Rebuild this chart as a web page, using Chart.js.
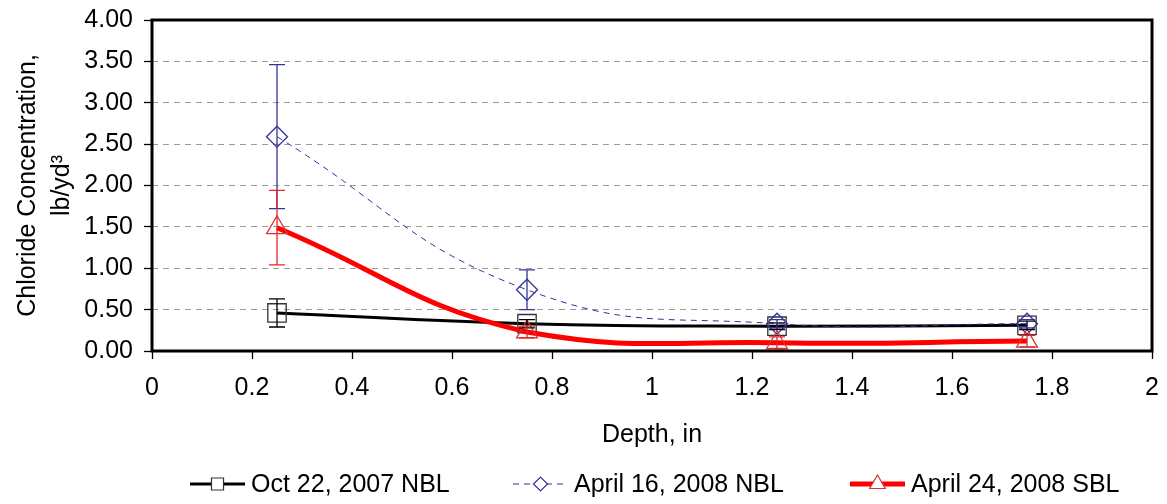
<!DOCTYPE html>
<html>
<head>
<meta charset="utf-8">
<script src="https://cdn.jsdelivr.net/npm/chart.js@4.4.1/dist/chart.umd.min.js"></script>
<style>
  html, body { margin: 0; padding: 0; background: #fff; }
  #wrap { width: 1167px; height: 504px; }
</style>
</head>
<body>
<div id="wrap"><canvas id="chloride"></canvas></div>
<script>
// depth readings (in) and chloride results (lb/yd3) per sampling date
const depths = [0.25, 0.75, 1.25, 1.75];
const seriesNames = ["Oct 22, 2007 NBL", "April 16, 2008 NBL", "April 24, 2008 SBL"];
const oct2007 = [0.46, 0.33, 0.30, 0.31];
const oct2007Err = [0.17, 0.05, 0.04, 0.05];
const apr16 = [2.59, 0.74, 0.33, 0.33];
const apr16Err = [0.87, 0.24, 0.05, 0.05];
const apr24 = [1.49, 0.23, 0.10, 0.12];
const apr24Err = [0.45, 0.07, 0.07, 0.07];

const FONT = "'Liberation Sans', Arial, sans-serif";

const toPoints = function(vals) {
  return depths.map((d, i) => ({ x: d, y: vals[i] }));
};

// vertical error bars with caps, drawn from each dataset's errors array
const errorBars = {
  id: 'errorBars',
  afterDatasetsDraw(chart) {
    const ctx = chart.ctx;
    const yScale = chart.scales.y;
    chart.data.datasets.forEach((ds, i) => {
      const meta = chart.getDatasetMeta(i);
      ctx.save();
      ctx.strokeStyle = ds.errorColor;
      ctx.lineWidth = 1.3;
      meta.data.forEach((pt, j) => {
        const v = ds.data[j].y, e = ds.errors[j];
        const top = yScale.getPixelForValue(v + e);
        const bot = yScale.getPixelForValue(v - e);
        ctx.beginPath();
        ctx.moveTo(pt.x, top); ctx.lineTo(pt.x, bot);
        ctx.moveTo(pt.x - 8, top); ctx.lineTo(pt.x + 8, top);
        ctx.moveTo(pt.x - 8, bot); ctx.lineTo(pt.x + 8, bot);
        ctx.stroke();
      });
      ctx.restore();
    });
  }
};

// box around the plot area
const frame = {
  id: 'frame',
  afterDraw(chart) {
    const a = chart.chartArea, ctx = chart.ctx;
    ctx.save();
    ctx.strokeStyle = '#000';
    ctx.lineWidth = 3;
    ctx.strokeRect(a.left, a.top, a.right - a.left, a.bottom - a.top);
    ctx.restore();
  }
};

// legend row: line sample + marker + label
const legendRow = {
  id: 'legendRow',
  afterDraw(chart) {
    const ctx = chart.ctx;
    const items = [
      { x: 190, ds: 0 },
      { x: 513, ds: 1 },
      { x: 850, ds: 2 }
    ];
    const y = 484;
    items.forEach(it => {
      const ds = chart.data.datasets[it.ds];
      ctx.save();
      ctx.strokeStyle = ds.borderColor;
      ctx.lineWidth = ds.borderWidth;
      ctx.setLineDash(ds.borderDash || []);
      ctx.beginPath();
      ctx.moveTo(it.x, y); ctx.lineTo(it.x + 55, y);
      ctx.stroke();
      ctx.setLineDash([]);
      ctx.fillStyle = '#fff';
      ctx.strokeStyle = ds.pointBorderColor;
      ctx.lineWidth = 1.2;
      Chart.helpers.drawPoint(ctx, {
        pointStyle: ds.pointStyle, radius: ds.legendRadius, borderWidth: 1.2
      }, it.x + 27.5, y);
      ctx.fillStyle = '#000';
      ctx.font = '25px ' + FONT;
      ctx.textBaseline = 'alphabetic';
      ctx.fillText(ds.label, it.x + 61, 492);
      ctx.restore();
    });
  }
};

new Chart(document.getElementById('chloride'), {
  type: 'line',
  data: {
    datasets: [
      {
        label: seriesNames[0],
        data: toPoints(oct2007),
        errors: oct2007Err,
        errorColor: '#000',
        borderColor: '#000',
        borderWidth: 3,
        pointStyle: 'rect',
        pointRadius: 13,
        legendRadius: 8.5,
        pointBorderColor: '#333',
        pointBorderWidth: 1.3,
        pointBackgroundColor: 'rgba(0,0,0,0)',
        tension: 0.45,
        order: 2
      },
      {
        label: seriesNames[1],
        data: toPoints(apr16),
        errors: apr16Err,
        errorColor: '#333399',
        borderColor: '#333399',
        borderWidth: 1,
        borderDash: [6, 5],
        pointStyle: 'rectRot',
        pointRadius: 10.5,
        legendRadius: 7,
        pointBorderColor: '#333399',
        pointBorderWidth: 1.3,
        pointBackgroundColor: 'rgba(0,0,0,0)',
        tension: 0.45,
        order: 1
      },
      {
        label: seriesNames[2],
        data: toPoints(apr24),
        errors: apr24Err,
        errorColor: '#e02828',
        borderColor: '#ff0000',
        borderWidth: 5,
        pointStyle: 'triangle',
        pointRadius: 12,
        legendRadius: 9,
        pointBorderColor: '#e03030',
        pointBorderWidth: 1.3,
        pointBackgroundColor: 'rgba(0,0,0,0)',
        tension: 0.45,
        order: 0
      }
    ]
  },
  options: {
    responsive: true,
    maintainAspectRatio: false,
    animation: false,
    layout: { padding: { top: 20, right: 15, bottom: 0, left: 0 } },
    plugins: {
      legend: { display: false },
      tooltip: { enabled: false }
    },
    scales: {
      x: {
        type: 'linear',
        min: 0,
        max: 2,
        afterFit(scale) {
          scale.height = 153;
          scale.paddingLeft = 0;
          scale.paddingRight = 0;
        },
        ticks: {
          stepSize: 0.2,
          color: '#000',
          padding: 14,
          maxRotation: 0,
          font: { family: FONT, size: 25 },
          callback: v => String(Number(v.toFixed(1)))
        },
        grid: {
          drawOnChartArea: false,
          drawTicks: true,
          tickLength: 8,
          tickColor: '#000',
          tickWidth: 1.3
        },
        border: { display: false },
        title: {
          display: true,
          text: 'Depth, in',
          color: '#000',
          font: { family: FONT, size: 25, lineHeight: 1.2 },
          padding: { top: 0, bottom: 54 }
        }
      },
      y: {
        min: 0,
        max: 4,
        afterFit(scale) {
          scale.width = 152;
          scale.paddingTop = 0;
          scale.paddingBottom = 0;
        },
        ticks: {
          stepSize: 0.5,
          color: '#000',
          padding: 11,
          font: { family: FONT, size: 25 },
          callback: v => v.toFixed(2)
        },
        grid: {
          color: '#9a9a9a',
          lineWidth: 1,
          drawTicks: true,
          tickLength: 8,
          tickColor: '#000',
          tickWidth: 1.3,
          tickBorderDash: []
        },
        border: { display: false, dash: [6, 5] },
        title: {
          display: true,
          text: ['Chloride Concentration,', 'lb/yd\u00b3'],
          color: '#000',
          font: { family: FONT, size: 25, lineHeight: 1.36 },
          padding: { top: 11, bottom: 0 }
        }
      }
    }
  },
  plugins: [errorBars, frame, legendRow]
});
</script>
</body>
</html>
